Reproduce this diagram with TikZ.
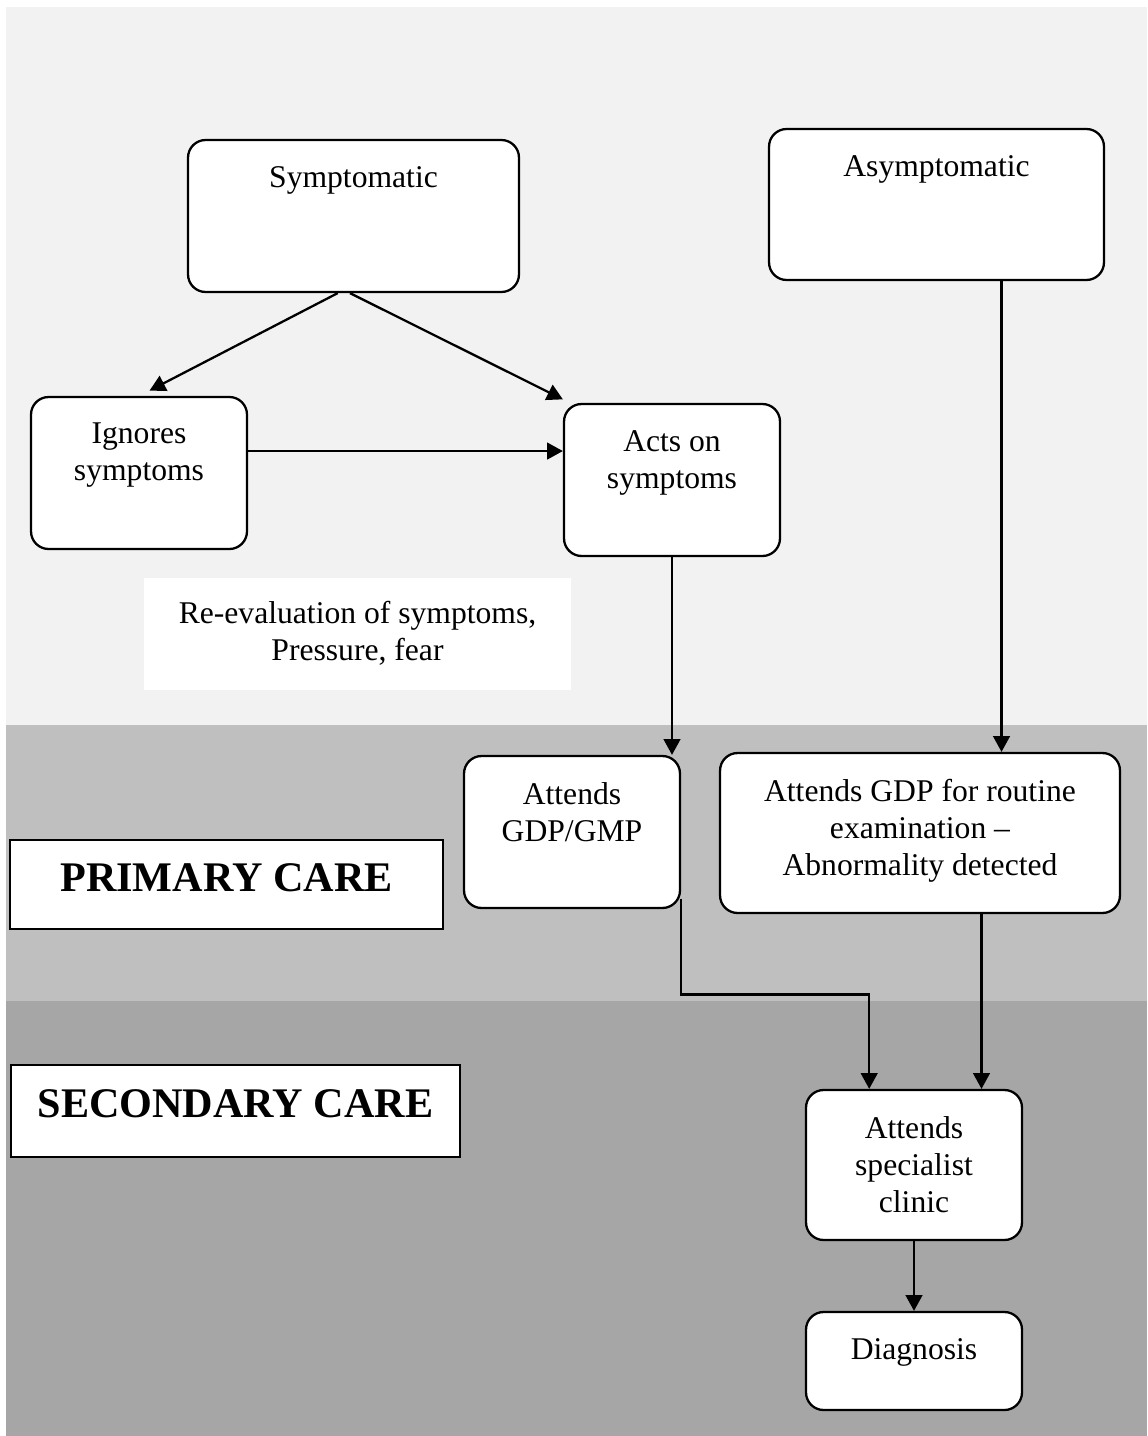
\documentclass[tikz,border=0pt]{standalone}
\usepackage{fontspec}
\setmainfont{Liberation Serif}
\usetikzlibrary{arrows.meta, calc}
\definecolor{bandtop}{HTML}{F2F2F2}
\definecolor{bandmid}{HTML}{BFBFBF}
\definecolor{bandlow}{HTML}{A6A6A6}

\begin{document}
\begin{tikzpicture}[
    x=0.02cm, y=-0.02cm,
    every node/.style={font=\fontsize{18}{21}\selectfont},
    card/.style={draw, fill=white, line width=1.3pt, rounded corners=10pt, inner sep=0pt},
    lbl/.style={anchor=north, inner sep=0pt, align=center, yshift=-15.4pt},
    note/.style={fill=white, inner sep=0pt},
    zone/.style={draw, fill=white, line width=1.2pt, inner sep=0pt, text depth=8pt,
                 font=\fontsize{24}{28}\selectfont\bfseries},
    flow/.style={line width=1.3pt, -{Triangle[length=9pt, width=9.5pt]}},
]
\useasboundingbox[fill=white] (0,0) rectangle (1147,1436);

% bands: self-referral, primary, secondary
\fill[bandtop] (6,7) rectangle (1147,725);
\fill[bandmid] (6,725) rectangle (1147,1001);
\fill[bandlow] (6,1001) rectangle (1147,1436);

% boxes
\node[card, minimum width=6.62cm, minimum height=3.04cm,
      label={[lbl]north:Symptomatic}] (symp) at (353.5,216) {};
\node[card, minimum width=6.70cm, minimum height=3.02cm,
      label={[lbl]north:Asymptomatic}] (asymp) at (936.5,204.5) {};
\node[card, minimum width=4.32cm, minimum height=3.04cm,
      label={[lbl]north:{Ignores\\symptoms}}] (ign) at (139,473) {};
\node[card, minimum width=4.32cm, minimum height=3.04cm,
      label={[lbl]north:{Acts on\\symptoms}}] (acts) at (672,480) {};
\node[note, minimum width=8.54cm, minimum height=2.24cm,
      label={[lbl, yshift=2pt]north:{Re-evaluation of symptoms,\\Pressure, fear}}] (reeval) at (357.5,634) {};
\node[card, minimum width=4.32cm, minimum height=3.04cm,
      label={[lbl]north:{Attends\\GDP/GMP}}] (gdp) at (572,832) {};
\node[card, minimum width=8.00cm, minimum height=3.20cm,
      label={[lbl]north:{Attends GDP for routine\\examination --\\Abnormality detected}}] (routine) at (920,833) {};
\node[card, minimum width=4.32cm, minimum height=3.00cm,
      label={[lbl]north:{Attends\\specialist\\clinic}}] (spec) at (914,1165) {};
\node[card, minimum width=4.32cm, minimum height=1.96cm,
      label={[lbl]north:Diagnosis}] (diag) at (914,1361) {};

% care levels
\node[zone, minimum width=8.66cm, minimum height=1.78cm] (primary) at (226.5,884.5) {PRIMARY CARE};
\node[zone, minimum width=8.98cm, minimum height=1.84cm] (secondary) at (235.5,1111) {SECONDARY CARE};

% connectors
\draw[flow] ([xshift=-9pt]symp.south) -- ([xshift=6pt,yshift=3pt]ign.north);
\draw[flow] ([xshift=-2pt]symp.south) -- ([yshift=2pt]acts.north west);
\draw[flow] ([yshift=12.5pt]ign.east) -- ([yshift=12.5pt]ign.east -| acts.west);
\draw[flow] (acts.south) -- (acts.south |- gdp.north);
\draw[flow] ([xshift=37pt]asymp.south) -- ([xshift=37pt]asymp.south |- routine.north);
\draw[flow] ([yshift=6pt]gdp.south east) -- ++(0,96) -| ([xshift=-25.5pt]spec.north);
\draw[flow] ([xshift=35pt]routine.south) -- ([xshift=35pt]routine.south |- spec.north);
\draw[flow] (spec.south) -- (diag.north);
\end{tikzpicture}
\end{document}
